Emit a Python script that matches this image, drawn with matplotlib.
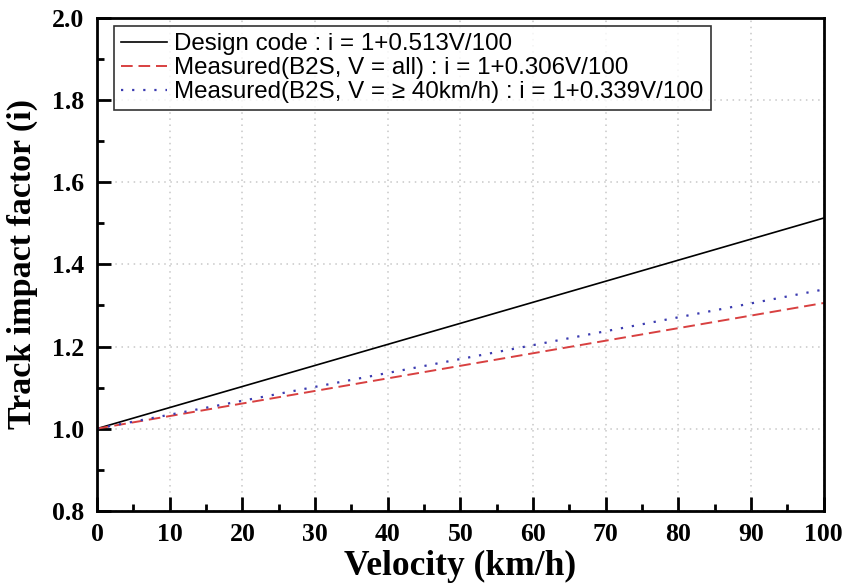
import matplotlib.pyplot as plt
from matplotlib.ticker import MultipleLocator

velocity = [0, 100]
design_code = [1.0, 1.513]
measured_all = [1.0, 1.306]
measured_40 = [1.0, 1.339]

labels = ['Design code : i = 1+0.513V/100',
          'Measured(B2S, V = all) : i = 1+0.306V/100',
          'Measured(B2S, V = \u2265 40km/h) : i = 1+0.339V/100']

serif = ['Liberation Serif', 'DejaVu Serif']
sans = ['Liberation Sans', 'DejaVu Sans']

fig = plt.figure(figsize=(8.44, 5.85), dpi=100)
ax = fig.add_axes([0.115, 0.127, 0.861, 0.842])

ax.plot(velocity, design_code, color='black', lw=1.2, label=labels[0])
ax.plot(velocity, measured_all, color='#d84040', lw=1.4, ls=(0, (6, 3)), label=labels[1])
ax.plot(velocity, measured_40, color='#3b3bb0', lw=1.6, ls=(0, (1, 4)), label=labels[2])

ax.set_xlim(0, 100)
ax.set_ylim(0.8, 2.0)
ax.xaxis.set_major_locator(MultipleLocator(10))
ax.xaxis.set_minor_locator(MultipleLocator(5))
ax.yaxis.set_major_locator(MultipleLocator(0.2))
ax.yaxis.set_minor_locator(MultipleLocator(0.1))
ax.tick_params(which='both', direction='in', width=2, top=False, right=False)
ax.tick_params(which='major', length=10, pad=9)
ax.tick_params(which='minor', length=5)
for lab in ax.get_xticklabels() + ax.get_yticklabels():
    lab.set_family(serif)
    lab.set_fontweight('bold')
    lab.set_fontsize(18.5)
ax.grid(True, which='major', color='#c8c8c8', ls=(0, (1, 3)), lw=1.1)
for sp in ax.spines.values():
    sp.set_linewidth(2)

ax.set_xlabel('Velocity (km/h)', family=serif, fontweight='bold', fontsize=25.5, labelpad=3)
ax.set_ylabel('Track impact factor (i)', family=serif, fontweight='bold', fontsize=24.5, labelpad=10)

leg = ax.legend(loc='upper left', bbox_to_anchor=(0.023, 0.984), prop={'family': sans, 'size': 17.4},
                frameon=True, fancybox=False, edgecolor='black', handlelength=1.9,
                borderpad=0.3, labelspacing=0.08, handletextpad=0.3, borderaxespad=0)
leg.get_frame().set_linewidth(1.2)

fig.savefig('out.png', dpi=100)
